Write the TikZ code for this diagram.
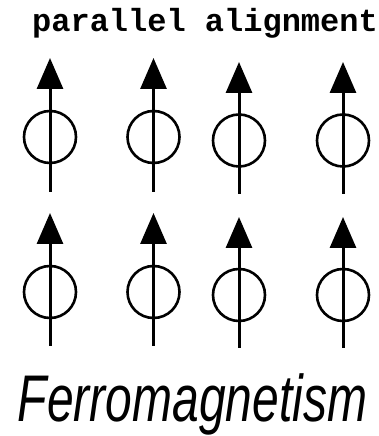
\documentclass[tikz,border=0pt]{standalone}
\usepackage{fontspec}
\usetikzlibrary{arrows.meta}
\newfontfamily\titlemono{Liberation Mono}
\newfontfamily\captionsans{Liberation Sans}
\tikzset{
  spinring/.style={circle,draw,line width=2.6pt,minimum size=52pt,inner sep=0pt},
  spinarrow/.style={line width=3pt,-{Triangle[length=31pt,width=26pt]}},
}
\begin{document}
\begin{tikzpicture}[x=1pt,y=1pt]
\useasboundingbox (0,0) rectangle (379,436);
\node[anchor=base,inner sep=0pt,font=\titlemono\bfseries\fontsize{32}{34}\selectfont] (title) at (205,404) {parallel alignment};
% spins: name / x / tip y / center y / bottom y  (in image y, converted)
\foreach \n/\x/\t/\c/\b in {a/50/58/137/192, b/153.5/58/137/192, c/239/62/140.5/194, d/343/62/140.5/194,
                            e/50/213/292/346, f/153.5/213/292/346, g/239/217/295/348, h/343/217/295/348}{
  \coordinate (\n bot) at (\x,436-\b);
  \coordinate (\n top) at (\x,436-\t);
  \node[spinring] (\n ring) at (\x,436-\c) {};
  \draw[spinarrow] (\n bot) -- (\n top);
}
\node[anchor=base,inner sep=0pt,font=\captionsans\itshape\fontsize{66}{68}\selectfont] (caption) at (192.5,14) {\scalebox{0.727}[1]{Ferromagnetism}};
\end{tikzpicture}
\end{document}
